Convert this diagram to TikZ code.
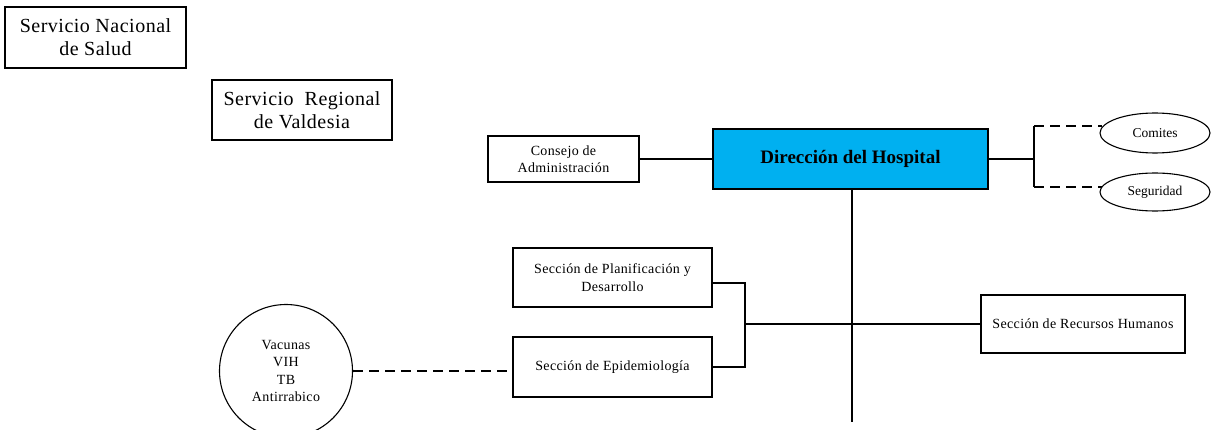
\documentclass[tikz,border=0pt]{standalone}
\usepackage{fontspec}
\setmainfont{Liberation Serif}
\newfontfamily\trackedserif[LetterSpace=2.5]{Liberation Serif}
\usetikzlibrary{shapes.geometric}
\definecolor{dirblue}{HTML}{00B0F0}
\begin{document}
\begin{tikzpicture}[x=1pt,y=-1pt,
  box/.style={draw, line width=1.1pt, inner sep=0pt, align=center},
  conn/.style={line width=1.1pt},
  dashline/.style={line width=1.1pt, dash pattern=on 10pt off 6pt},
  bigtext/.style={font=\trackedserif\fontsize{20}{23}\selectfont},
  smalltext/.style={font=\trackedserif\fontsize{14}{17.5}\selectfont},
  ovaltext/.style={font=\fontsize{13.5}{16}\selectfont},
]
\useasboundingbox (0,0) rectangle (1212,430);
% top-left boxes
\node[box,bigtext,minimum width=181pt,minimum height=61pt] (snac) at (95.5,37.5) {Servicio Nacional\\de Salud};
\node[box,bigtext,minimum width=180pt,minimum height=60pt] (sreg) at (302,110) {Servicio\ \ Regional\\de Valdesia};
% main row
\node[box,smalltext,minimum width=151pt,minimum height=46pt] (cons) at (563.5,159) {Consejo de\\Administración};
\node[box,fill=dirblue,minimum width=275pt,minimum height=60pt,font=\bfseries\fontsize{19}{22}\selectfont] (dir) at (850.5,159) {Dirección del Hospital};
\node[ellipse,draw,line width=1.1pt,inner sep=0pt,minimum width=110pt,minimum height=40pt,ovaltext] (com) at (1155,133) {Comites};
\node[ellipse,draw,line width=1.1pt,inner sep=0pt,minimum width=110pt,minimum height=38pt,ovaltext] (seg) at (1155,192) {Seguridad};
% lower
\node[box,smalltext,minimum width=199pt,minimum height=59pt] (plan) at (612.5,277.5) {Sección de Planificación y\\Desarrollo};
\node[box,smalltext,minimum width=199pt,minimum height=60pt] (epi) at (612.5,367) {Sección de Epidemiología};
\node[box,smalltext,minimum width=204pt,minimum height=58pt] (rh) at (1083,324) {Sección de Recursos Humanos};
\node[circle,draw,line width=1.1pt,inner sep=0pt,minimum size=133pt,align=center,smalltext] (vac) at (286,371) {Vacunas\\VIH\\TB\\Antirrabico};
% connectors
\coordinate (rj) at (1034,159);
\coordinate (rt) at (1034,126);
\coordinate (rb) at (1034,187);
\coordinate (vend) at (852,422);
\coordinate (bx) at (745,324);
\draw[conn] (cons) -- (dir);
\draw[conn] (dir.east) -- (rj);
\draw[conn] (rt) -- (rb);
\draw[dashline, shorten >=-3pt] (rt) -- (rt -| com.west);
\draw[dashline, shorten >=-3pt] (rb) -- (rb -| seg.west);
\draw[conn] (vend |- dir.south) -- (vend);
\draw[conn] ([yshift=-5.5pt]plan.east) -| (bx) |- (epi.east);
\draw[conn] (bx) -- (rh.west);
\draw[dashline] (vac.east) -- (vac.east -| epi.west);
\end{tikzpicture}
\end{document}
